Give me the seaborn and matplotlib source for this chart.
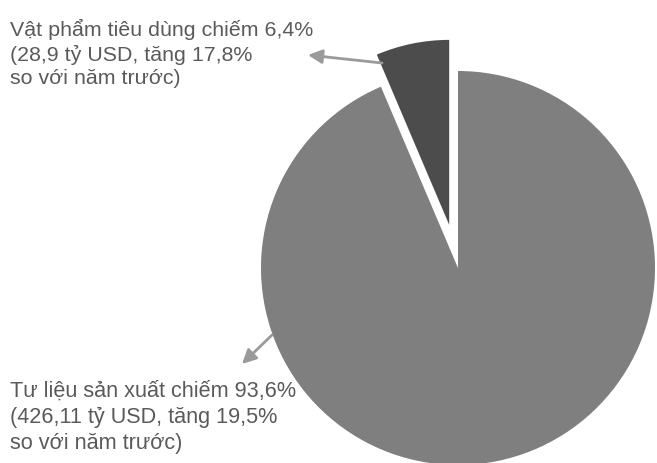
import matplotlib
matplotlib.use("Agg")
import matplotlib.pyplot as plt
import seaborn as sns

# ---- data ----
categories = ["Vật phẩm tiêu dùng", "Tư liệu sản xuất"]
shares = [6.4, 93.6]            # percent
amounts = ["28,9", "426,11"]    # tỷ USD
growth = ["17,8", "19,5"]       # % vs previous year

sns.set_theme(style="white")
plt.rcParams['font.family'] = ['Liberation Sans', 'DejaVu Sans']

W, H = 657, 463
fig = plt.figure(figsize=(W / 100, H / 100), dpi=100)
ax = fig.add_axes([0, 0, 1, 1])
ax.set_xlim(0, W)
ax.set_ylim(0, H)
ax.set_aspect('equal')
ax.axis('off')

colors = ["#4c4c4c", "#7f7f7f"]
wedges, _ = ax.pie(shares, startangle=90, counterclock=True,
                   explode=[44, 0], radius=197, center=(458, H - 268),
                   colors=colors, wedgeprops=dict(linewidth=0))
ax.set_xlim(0, W)
ax.set_ylim(0, H)
wedges[0].set_radius(185)

txt_color = "#5a5a5a"
labels = [f"{c} chiếm {s:.1f}%".replace(".", ",") + f"\n({a} tỷ USD, tăng {g}%\nso với năm trước)"
          for c, s, a, g in zip(categories, shares, amounts, growth)]

ax.text(10, H - 19, labels[0], ha='left', va='top', fontsize=15.4,
        color=txt_color, linespacing=1.3)
ax.text(10, H - 381, labels[1], ha='left', va='top', fontsize=15.6,
        color=txt_color, linespacing=1.3)

arrow = dict(arrowstyle='-|>,head_length=0.7,head_width=0.35', color="#9a9a9a",
             lw=2, shrinkA=0, shrinkB=0)
ax.annotate("", xy=(308, H - 55), xytext=(382, H - 63), arrowprops=arrow)
ax.annotate("", xy=(242, H - 364), xytext=(272, H - 335), arrowprops=arrow)

fig.savefig("out.png", dpi=100, facecolor="white")
